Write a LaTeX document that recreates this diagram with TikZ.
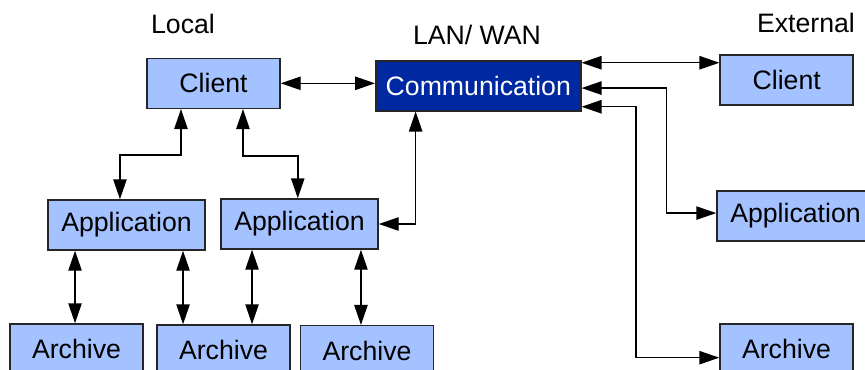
\documentclass[tikz,border=0pt]{standalone}
\usepackage{fontspec}
\setmainfont{Liberation Sans}
\usetikzlibrary{arrows.meta}
\usepackage{xcolor}
\definecolor{boxblue}{RGB}{164,194,255}
\definecolor{commblue}{RGB}{0,40,160}

\begin{document}
\begin{tikzpicture}[x=0.75pt, y=-0.75pt]
    \tikzstyle{unit}=[draw=black!85, line width=1.1pt, fill=boxblue, minimum height=37.5pt, inner sep=0pt, font=\fontsize{20}{24}\selectfont]
    \tikzstyle{link}=[{Triangle[length=15pt,width=10pt]}-{Triangle[length=15pt,width=10pt]}, line width=1.1pt]
    \tikzstyle{heading}=[font=\fontsize{20}{24}\selectfont]

    \useasboundingbox (0,0) rectangle (865,369);

    \node[heading] (local) at (183,24) {Local};
    \node[heading] (lanwan) at (477,35) {LAN/ WAN};
    \node[heading] (external) at (806,23) {External};

    % local side
    \node[unit, minimum width=99.75pt] (lclient) at (213.5,83.3) {Client};
    \node[unit, minimum width=117.75pt] (app1) at (126.5,225) {Application};
    \node[unit, minimum width=117.75pt] (app2) at (299.5,224) {Application};
    \node[unit, minimum width=99.75pt] (arch1) at (76.5,349) {Archive};
    \node[unit, minimum width=99.75pt] (arch2) at (223.5,350) {Archive};
    \node[unit, minimum width=99.75pt] (arch3) at (367,350.7) {Archive};

    \node[unit, minimum width=153.75pt, fill=commblue, text=white] (comm) at (478.3,85.8) {Communication};

    % external side
    \node[unit, minimum width=99.75pt] (eclient) at (786.7,80) {Client};
    \node[unit, minimum width=117.75pt] (eapp) at (795.5,216) {Application};
    \node[unit, minimum width=99.75pt] (earch) at (786.5,349) {Archive};

    \draw[link] (lclient.east) -- (lclient.east -| comm.west);
    \draw[link] ([xshift=-24.4pt]lclient.south) -- ++(0,46) -| ([xshift=-4.9pt]app1.north);
    \draw[link] ([xshift=22.1pt]lclient.south) -- ++(0,47) -| ([xshift=-1.3pt]app2.north);
    \draw[link] ([xshift=-47pt]comm.south) |- (app2.east);

    \foreach \src/\dx/\dst in {app1/-38.6/arch1, app1/42.4/arch2, app2/-35.6/arch2, app2/46.1/arch3}
        \draw[link] ([xshift=\dx pt]\src.south) -- ([xshift=\dx pt]\src.south |- \dst.north);

    \draw[link] ([yshift=17.3pt]comm.east) -- ([yshift=17.3pt]comm.east -| eclient.west);
    \draw[link] ([yshift=-1.7pt]comm.east) -- ++(85,0) |- ([yshift=2.2pt]eapp.west);
    \draw[link] ([yshift=-15.7pt]comm.east) -- ++(54.3,0) |- ([yshift=-6.5pt]earch.west);
\end{tikzpicture}
\end{document}
